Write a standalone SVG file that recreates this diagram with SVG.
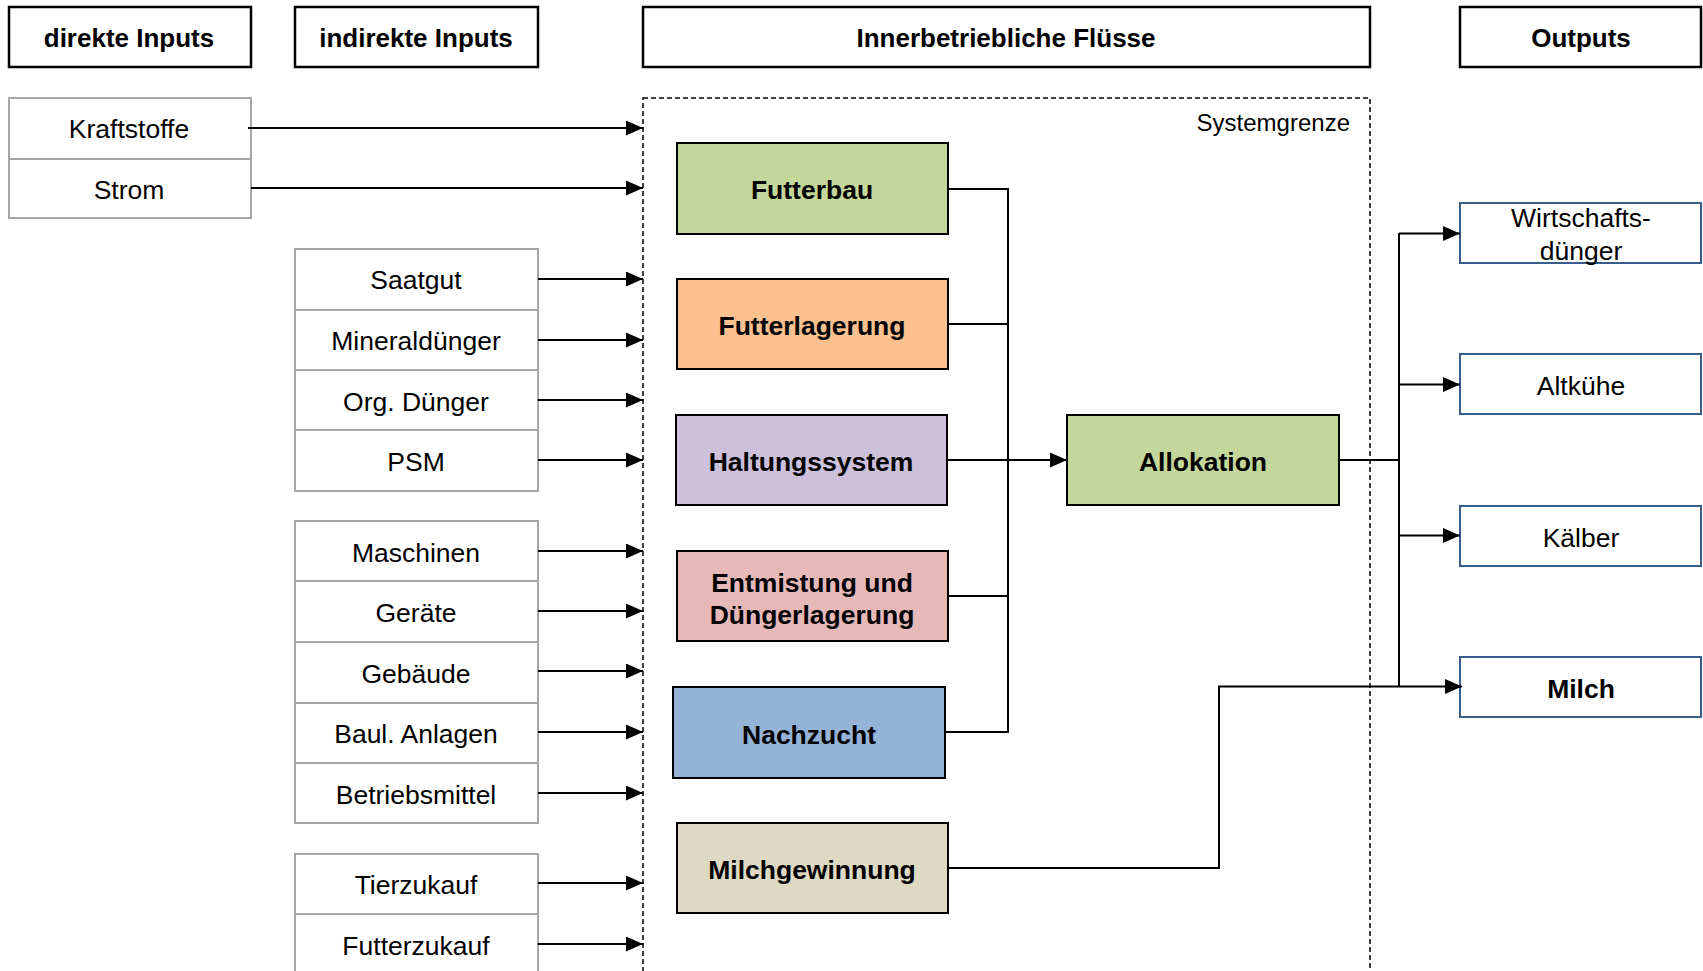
<svg xmlns="http://www.w3.org/2000/svg" width="1703" height="971" viewBox="0 0 1703 971">
<defs>
<marker id="ah" markerUnits="userSpaceOnUse" markerWidth="17" markerHeight="15" viewBox="0 0 17 15" refX="17" refY="7.5" orient="auto">
<path d="M0,0 L17,7.5 L0,15 z" fill="#000"/>
</marker>
<style>
.hdr{fill:#fff;stroke:#000;stroke-width:2.5}
.ht{font-family:"Liberation Sans",Arial,sans-serif;font-weight:bold;font-size:26px;text-anchor:middle;fill:#000}
.in{fill:#fff;stroke:#a6a6a6;stroke-width:2}
.t{font-family:"Liberation Sans",Arial,sans-serif;font-size:26.5px;text-anchor:middle;fill:#000}
.bt{font-family:"Liberation Sans",Arial,sans-serif;font-weight:bold;font-size:26.5px;text-anchor:middle;fill:#000}
.box{stroke:#000;stroke-width:2}
.out{fill:#fff;stroke:#385d8a;stroke-width:2}
.c{fill:none;stroke:#000;stroke-width:2}
.ca{fill:none;stroke:#000;stroke-width:2;marker-end:url(#ah)}
</style>
</defs>
<rect width="1703" height="971" fill="#fff"/>

<g id="headers">
<g id="h-direkt"><rect class="hdr" x="9" y="7" width="242" height="60"/><text class="ht" x="129" y="47">direkte Inputs</text></g>
<g id="h-indirekt"><rect class="hdr" x="295" y="7" width="243" height="60"/><text class="ht" x="416" y="47">indirekte Inputs</text></g>
<g id="h-inner"><rect class="hdr" x="643" y="7" width="727" height="60"/><text class="ht" x="1006" y="47">Innerbetriebliche Flüsse</text></g>
<g id="h-out"><rect class="hdr" x="1460" y="7" width="241" height="60"/><text class="ht" x="1581" y="47">Outputs</text></g>
</g>

<g id="systemgrenze">
<rect x="643" y="98" width="727" height="890" fill="none" stroke="#000" stroke-width="1.5" stroke-dasharray="5,3"/>
<text x="1350" y="131" font-family="'Liberation Sans',Arial,sans-serif" font-size="24" text-anchor="end">Systemgrenze</text>
</g>

<g id="inputs-direkt">
<g id="n-kraftstoffe"><rect class="in" x="9" y="98" width="242" height="61"/><text class="t" x="129" y="138">Kraftstoffe</text></g>
<g id="n-strom"><rect class="in" x="9" y="159" width="242" height="59"/><text class="t" x="129" y="199">Strom</text></g>
</g>

<g id="inputs-indirekt">
<g id="n-saatgut"><rect class="in" x="295" y="249" width="243" height="61"/><text class="t" x="416" y="289">Saatgut</text></g>
<g id="n-mineralduenger"><rect class="in" x="295" y="310" width="243" height="60"/><text class="t" x="416" y="350">Mineraldünger</text></g>
<g id="n-orgduenger"><rect class="in" x="295" y="370" width="243" height="60"/><text class="t" x="416" y="411">Org. Dünger</text></g>
<g id="n-psm"><rect class="in" x="295" y="430" width="243" height="61"/><text class="t" x="416" y="471">PSM</text></g>

<g id="n-maschinen"><rect class="in" x="295" y="521" width="243" height="60"/><text class="t" x="416" y="562">Maschinen</text></g>
<g id="n-geraete"><rect class="in" x="295" y="581" width="243" height="61"/><text class="t" x="416" y="622">Geräte</text></g>
<g id="n-gebaeude"><rect class="in" x="295" y="642" width="243" height="61"/><text class="t" x="416" y="683">Gebäude</text></g>
<g id="n-baulanlagen"><rect class="in" x="295" y="703" width="243" height="60"/><text class="t" x="416" y="743">Baul. Anlagen</text></g>
<g id="n-betriebsmittel"><rect class="in" x="295" y="763" width="243" height="60"/><text class="t" x="416" y="804">Betriebsmittel</text></g>

<g id="n-tierzukauf"><rect class="in" x="295" y="854" width="243" height="60"/><text class="t" x="416" y="894">Tierzukauf</text></g>
<g id="n-futterzukauf"><rect class="in" x="295" y="914" width="243" height="70"/><text class="t" x="416" y="955">Futterzukauf</text></g>
</g>

<g id="inner">
<g id="n-futterbau"><rect class="box" x="677" y="143" width="271" height="91" fill="#c4d79b"/><text class="bt" x="812" y="199">Futterbau</text></g>
<g id="n-futterlagerung"><rect class="box" x="677" y="279" width="271" height="90" fill="#fac090"/><text class="bt" x="812" y="335">Futterlagerung</text></g>
<g id="n-haltungssystem"><rect class="box" x="676" y="415" width="271" height="90" fill="#ccc0da"/><text class="bt" x="811" y="471">Haltungssystem</text></g>
<g id="n-entmistung"><rect class="box" x="677" y="551" width="271" height="90" fill="#e6b9b8"/><text class="bt" x="812" y="592">Entmistung und</text><text class="bt" x="812" y="624">Düngerlagerung</text></g>
<g id="n-nachzucht"><rect class="box" x="673" y="687" width="272" height="91" fill="#95b3d7"/><text class="bt" x="809" y="744">Nachzucht</text></g>
<g id="n-milchgewinnung"><rect class="box" x="677" y="823" width="271" height="90" fill="#ddd9c3"/><text class="bt" x="812" y="879">Milchgewinnung</text></g>
<g id="n-allokation"><rect class="box" x="1067" y="415" width="272" height="90" fill="#c4d79b"/><text class="bt" x="1203" y="471">Allokation</text></g>
</g>

<g id="outputs">
<g id="n-wirtschaftsduenger"><rect class="out" x="1460" y="203" width="241" height="60"/><text class="t" x="1581" y="227">Wirtschafts-</text><text class="t" x="1581" y="260">dünger</text></g>
<g id="n-altkuehe"><rect class="out" x="1460" y="354" width="241" height="60"/><text class="t" x="1581" y="395">Altkühe</text></g>
<g id="n-kaelber"><rect class="out" x="1460" y="506" width="241" height="60"/><text class="t" x="1581" y="547">Kälber</text></g>
<g id="n-milch"><rect class="out" x="1460" y="657" width="241" height="60"/><text class="bt" x="1581" y="698">Milch</text></g>
</g>

<g id="connectors">
<path class="ca" d="M248,128 H643"/>
<path class="ca" d="M251,188 H643"/>
<path class="ca" d="M538,279 H643"/>
<path class="ca" d="M538,340 H643"/>
<path class="ca" d="M538,400 H643"/>
<path class="ca" d="M538,460 H643"/>
<path class="ca" d="M538,551 H643"/>
<path class="ca" d="M538,611 H643"/>
<path class="ca" d="M538,671 H643"/>
<path class="ca" d="M538,732 H643"/>
<path class="ca" d="M538,793 H643"/>
<path class="ca" d="M538,883 H643"/>
<path class="ca" d="M538,944 H643"/>

<path class="c" d="M948,189 H1009"/>
<path class="c" d="M948,324 H1009"/>
<path class="c" d="M948,596 H1009"/>
<path class="c" d="M945,732 H1008"/>
<path class="c" d="M1008,189 V733"/>
<path class="ca" d="M947,460 H1067"/>

<path class="c" d="M1339,460 H1399"/>
<path class="c" d="M1399,233 V687"/>
<path class="ca" d="M1399,233.5 H1460"/>
<path class="ca" d="M1398,384.5 H1460"/>
<path class="ca" d="M1399,535.5 H1460"/>
<path class="ca" d="M948,868 H1219 V686.5 H1462"/>
</g>
</svg>
